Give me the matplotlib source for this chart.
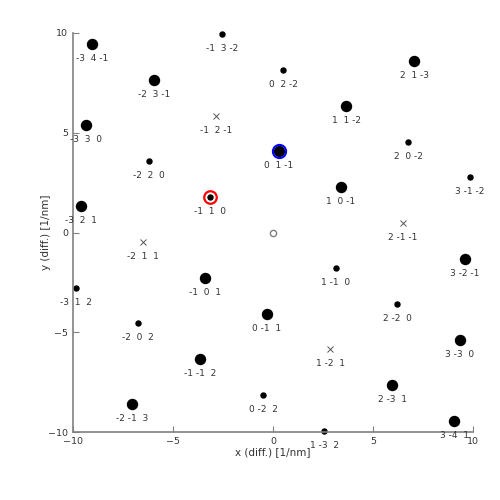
import matplotlib
matplotlib.use("Agg")
import matplotlib.pyplot as plt

# reflections: hkl label, x, y (1/nm), kind ('big', 'small', 'forb')
hkl = [
    (-3, 4, -1), (-1, 3, -2), (0, 2, -2), (2, 1, -3), (-2, 3, -1),
    (1, 1, -2), (-1, 2, -1), (-3, 3, 0), (0, 1, -1), (2, 0, -2),
    (-2, 2, 0), (3, -1, -2), (1, 0, -1), (-1, 1, 0), (-3, 2, 1),
    (2, -1, -1), (-2, 1, 1), (3, -2, -1), (-3, 1, 2), (-1, 0, 1),
    (1, -1, 0), (0, -1, 1), (2, -2, 0), (-2, 0, 2), (3, -3, 0),
    (1, -2, 1), (-1, -1, 2), (0, -2, 2), (2, -3, 1), (-2, -1, 3),
    (1, -3, 2), (3, -4, 1),
]
xs = [
    -9.05, -2.55, 0.5, 7.05, -5.95,
    3.65, -2.85, -9.35, 0.3, 6.75,
    -6.2, 9.85, 3.4, -3.15, -9.6,
    6.5, -6.5, 9.6, -9.85, -3.4,
    3.15, -0.3, 6.2, -6.75, 9.35,
    2.85, -3.65, -0.5, 5.95, -7.05,
    2.55, 9.05,
]
ys = [
    9.43, 9.93, 8.13, 8.6, 7.63,
    6.33, 5.83, 5.38, 4.08, 4.53,
    3.58, 2.78, 2.28, 1.78, 1.33,
    0.48, -0.48, -1.33, -2.78, -2.28,
    -1.78, -4.08, -3.58, -4.53, -5.38,
    -5.83, -6.33, -8.13, -7.63, -8.6,
    -9.93, -9.43,
]
kind = [
    'big', 'small', 'small', 'big', 'big',
    'big', 'forb', 'big', 'big', 'small',
    'small', 'small', 'big', 'small', 'big',
    'forb', 'forb', 'big', 'small', 'big',
    'small', 'big', 'small', 'small', 'big',
    'forb', 'big', 'small', 'big', 'big',
    'small', 'big',
]
# highlighted reflections
red_ring = (-1, 1, 0)
blue_ring = (0, 1, -1)

fig = plt.figure(figsize=(5, 5), dpi=100)
ax = fig.add_axes([0.146, 0.136, 0.8, 0.798])

gray = '#808080'
for (h, k, l), x, y, kd in zip(hkl, xs, ys, kind):
    if kd == 'big':
        ax.plot(x, y, 'o', color='k', markersize=7.2, clip_on=False)
    elif kd == 'small':
        ax.plot(x, y, 'o', color='k', markersize=3.6, clip_on=False)
    else:
        ax.plot(x, y, 'x', color='#555555', markersize=4, markeredgewidth=0.7, clip_on=False)
    if (h, k, l) == red_ring:
        ax.plot(x, y, 'o', mfc='none', mec='red', markersize=9, markeredgewidth=1.6, clip_on=False)
    if (h, k, l) == blue_ring:
        ax.plot(x, y, 'o', mfc='none', mec='blue', markersize=9.5, markeredgewidth=1.5, clip_on=False)
    ax.text(x, y - 0.5, f"{h} {k:2d} {l:2d}", ha='center', va='top',
            fontsize=6.5, color='#333333', clip_on=False)

# direct beam
ax.plot(0, 0, 'o', mfc='none', mec=gray, markersize=4.5, markeredgewidth=1)

ax.set_xlim(-10, 10)
ax.set_ylim(-10, 10)
ax.set_xticks([-10, -5, 0, 5, 10])
ax.set_yticks([-10, -5, 0, 5, 10])
ax.spines['top'].set_visible(False)
ax.spines['right'].set_visible(False)
for s in ('left', 'bottom'):
    ax.spines[s].set_color(gray)
    ax.spines[s].set_linewidth(1.2)
ax.tick_params(direction='in', length=4, color=gray, labelsize=6.8, labelcolor='#333333')
ax.set_xlabel("x (diff.) [1/nm]", fontsize=7.5, color='#333333', labelpad=1)
ax.set_ylabel("y (diff.) [1/nm]", fontsize=7.5, color='#333333', labelpad=-2)

fig.savefig("out.png", dpi=100)
